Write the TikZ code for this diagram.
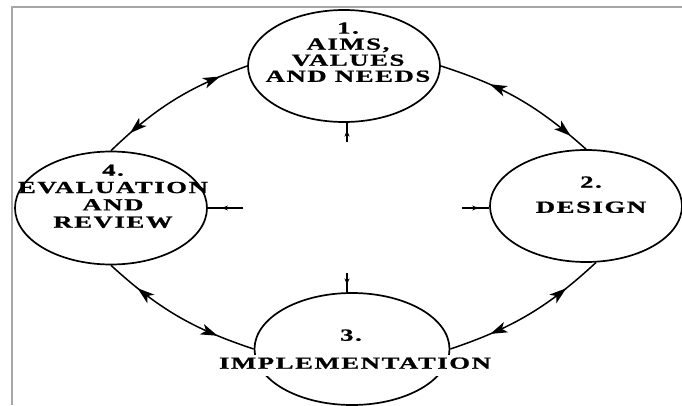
\documentclass[tikz,border=0pt]{standalone}
\usepackage{fontspec}
\usepackage{graphicx}
\setmainfont{Liberation Serif}
\newfontfamily\stagefont[LetterSpace=6,FakeBold=0.8]{Liberation Serif}
\usetikzlibrary{shapes.geometric,decorations.markings,arrows.meta}
\newcommand\stagelbl[1]{\scalebox{1.57}[1]{\setlength\tabcolsep{0pt}\begin{tabular}{c}#1\end{tabular}}}
\tikzset{stage/.style={draw,ellipse,line width=1.7pt,minimum width=192pt,minimum height=112pt,inner sep=0pt}}
\tikzset{stagetext/.style={font=\stagefont\bfseries\fontsize{17}{16}\selectfont,inner sep=1pt}}
\tikzset{link/.style 2 args={line width=1.5pt,postaction={decorate},decoration={markings,
  mark=at position #1 with {\arrowreversed{Stealth[length=17pt,width=11pt,inset=4.5pt]}},
  mark=at position #2 with {\arrow{Stealth[length=17pt,width=11pt,inset=4.5pt]}}}}}
\tikzset{feed/.style={line width=1.5pt,postaction={decorate},decoration={markings,
  mark=at position 0.6 with {\arrow{Stealth[length=6pt,width=5pt]}}}}}

\begin{document}
\begin{tikzpicture}[x=1pt,y=1pt]
\useasboundingbox (0,0) rectangle (682,405);
% frame
\draw[gray!70,line width=1.2pt] (12,0) -- (12,398) -- (682,398);
% stages
\node[stage] (aims) at (344,339) {};
\node[stage] (design) at (586,199) {};
\node[stage,minimum width=195pt] (impl) at (352,56) {};
\node[stage,minimum height=113pt] (eval) at (111,197) {};
% labels
\node[stagetext] (aims-t) at (348,350.5) {\stagelbl{1.\\AIMS,\\VALUES\\AND NEEDS}};
\node[stagetext] (design-t) at (591,208) {\stagelbl{2.\\[9pt]DESIGN}};
\node[stagetext] (eval-t) at (113,206.5) {\stagelbl{4.\\[1.3pt]EVALUATION\\[1.3pt]AND\\[1.3pt]REVIEW}};
\node[stagetext] (impl-n) at (351,67.5) {\stagelbl{3.}};
\node[stagetext,fill=white,inner sep=2pt] (impl-t) at (355,39.5) {\stagelbl{IMPLEMENTATION}};
% links
\draw[link={0.31}{0.88}] (aims.east) to[bend left=12] (design.north);
\draw[link={0.23}{0.75}] (design.-80) to[bend left=12] (impl.east);
\draw[link={0.23}{0.79}] (impl.west) to[bend left=12] (eval.south);
\draw[link={0.16}{0.82}] (eval.north) to[bend left=12] (aims.west);
% small arrows
\coordinate (in-aims) at (347,263);
\coordinate (in-design) at (462,197);
\coordinate (in-impl) at (347,132);
\coordinate (in-eval) at (243,197);
\draw[feed] (in-aims) -- (in-aims |- aims.south);
\draw[feed] (in-design) -- (in-design -| design.west);
\draw[feed] (in-impl) -- (in-impl |- impl.north);
\draw[feed] (in-eval) -- (in-eval -| eval.east);
\end{tikzpicture}
\end{document}
